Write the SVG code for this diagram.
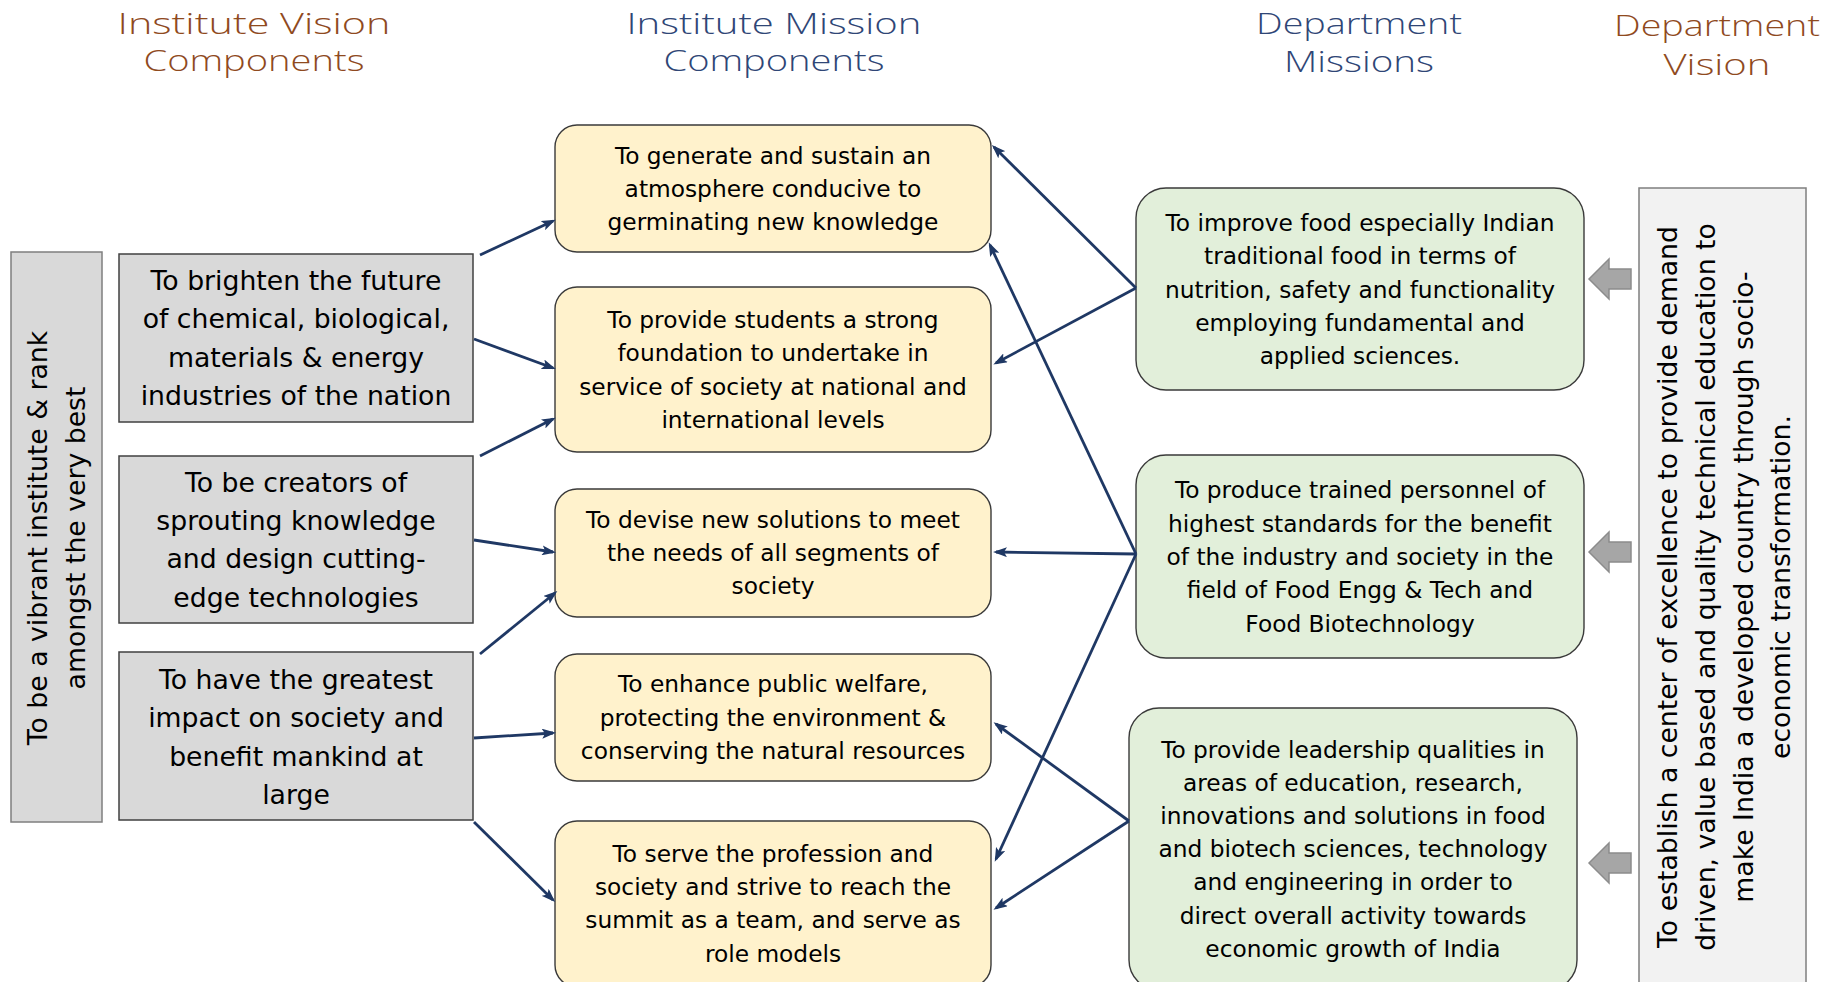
<svg xmlns="http://www.w3.org/2000/svg" width="1829" height="982" viewBox="0 0 1829 982">
<defs>
<style>
.title{font-family:"Open Sans","Liberation Sans",sans-serif;font-weight:300;font-size:30px;text-anchor:middle}
.brown{fill:#8f4a1e}
.navy{fill:#2f4676}
.big{font-family:"DejaVu Sans","Liberation Sans",sans-serif;font-size:26.7px;fill:#000;text-anchor:middle}
.med{font-family:"DejaVu Sans","Liberation Sans",sans-serif;font-size:23.3px;fill:#000;text-anchor:middle}
.gbox{fill:#d9d9d9;stroke:#404040;stroke-width:1.5}
.vbox{fill:#d9d9d9;stroke:#7f7f7f;stroke-width:1.5}
.ybox{fill:#fff2cc;stroke:#3a3a3a;stroke-width:1.4}
.grbox{fill:#e2efda;stroke:#3a3a3a;stroke-width:1.4}
.dvbox{fill:#f2f2f2;stroke:#7f7f7f;stroke-width:1.5}
.conn line{stroke:#1f3864;stroke-width:2.8;fill:none;marker-end:url(#ah)}
.garrow{fill:#a6a6a6;stroke:#8c8c8c;stroke-width:1.5}
</style>
<marker id="ah" viewBox="0 0 14 10" refX="11" refY="5" markerWidth="14" markerHeight="10" markerUnits="userSpaceOnUse" orient="auto">
<path d="M0,0 L14,5 L0,10 L3,5 z" fill="#1f3864"/>
</marker>
</defs>
<rect width="1829" height="982" fill="#ffffff"/>

<g id="titles">
<text class="title brown" x="254" y="34" textLength="273" lengthAdjust="spacingAndGlyphs">Institute Vision</text>
<text class="title brown" x="254" y="71" textLength="221" lengthAdjust="spacingAndGlyphs">Components</text>
<text class="title navy" x="774" y="34" textLength="295" lengthAdjust="spacingAndGlyphs">Institute Mission</text>
<text class="title navy" x="774" y="71" textLength="221" lengthAdjust="spacingAndGlyphs">Components</text>
<text class="title navy" x="1359" y="34" textLength="206" lengthAdjust="spacingAndGlyphs">Department</text>
<text class="title navy" x="1359" y="72" textLength="150" lengthAdjust="spacingAndGlyphs">Missions</text>
<text class="title brown" x="1717" y="36" textLength="206" lengthAdjust="spacingAndGlyphs">Department</text>
<text class="title brown" x="1717" y="75" textLength="107" lengthAdjust="spacingAndGlyphs">Vision</text>
</g>

<g id="inst-vision">
<rect class="vbox" x="11" y="252" width="91" height="570"/>
<text class="big" transform="translate(47,538) rotate(-90)">To be a vibrant institute &amp; rank</text>
<text class="big" transform="translate(85,538) rotate(-90)">amongst the very best</text>
</g>

<g id="iv1">
<rect class="gbox" x="119" y="254" width="354" height="168"/>
<text class="big" x="296" y="290">To brighten the future</text>
<text class="big" x="296" y="328.3">of chemical, biological,</text>
<text class="big" x="296" y="366.6">materials &amp; energy</text>
<text class="big" x="296" y="404.9">industries of the nation</text>
</g>
<g id="iv2">
<rect class="gbox" x="119" y="456" width="354" height="167"/>
<text class="big" x="296" y="491.8">To be creators of</text>
<text class="big" x="296" y="530.1">sprouting knowledge</text>
<text class="big" x="296" y="568.4">and design cutting-</text>
<text class="big" x="296" y="606.7">edge technologies</text>
</g>
<g id="iv3">
<rect class="gbox" x="119" y="652" width="354" height="168"/>
<text class="big" x="296" y="689">To have the greatest</text>
<text class="big" x="296" y="727.3">impact on society and</text>
<text class="big" x="296" y="765.6">benefit mankind at</text>
<text class="big" x="296" y="803.9">large</text>
</g>

<g id="im1">
<rect class="ybox" x="555" y="125" width="436" height="127" rx="22"/>
<text class="med" x="773" y="163.6">To generate and sustain an</text>
<text class="med" x="773" y="197">atmosphere conducive to</text>
<text class="med" x="773" y="230.4">germinating new knowledge</text>
</g>
<g id="im2">
<rect class="ybox" x="555" y="287" width="436" height="165" rx="22"/>
<text class="med" x="773" y="327.9">To provide students a strong</text>
<text class="med" x="773" y="361.3">foundation to undertake in</text>
<text class="med" x="773" y="394.7">service of society at national and</text>
<text class="med" x="773" y="428.1">international levels</text>
</g>
<g id="im3">
<rect class="ybox" x="555" y="489" width="436" height="128" rx="22"/>
<text class="med" x="773" y="527.5">To devise new solutions to meet</text>
<text class="med" x="773" y="560.9">the needs of all segments of</text>
<text class="med" x="773" y="594.3">society</text>
</g>
<g id="im4">
<rect class="ybox" x="555" y="654" width="436" height="127" rx="22"/>
<text class="med" x="773" y="692.2">To enhance public welfare,</text>
<text class="med" x="773" y="725.6">protecting the environment &amp;</text>
<text class="med" x="773" y="759">conserving the natural resources</text>
</g>
<g id="im5">
<rect class="ybox" x="555" y="821" width="436" height="166" rx="22"/>
<text class="med" x="773" y="861.5">To serve the profession and</text>
<text class="med" x="773" y="894.9">society and strive to reach the</text>
<text class="med" x="773" y="928.3">summit as a team, and serve as</text>
<text class="med" x="773" y="961.7">role models</text>
</g>

<g id="dm1">
<rect class="grbox" x="1136" y="188" width="448" height="202" rx="30"/>
<text class="med" x="1360" y="231">To improve food especially Indian</text>
<text class="med" x="1360" y="264.3">traditional food in terms of</text>
<text class="med" x="1360" y="297.6">nutrition, safety and functionality</text>
<text class="med" x="1360" y="330.9">employing fundamental and</text>
<text class="med" x="1360" y="364.2">applied sciences.</text>
</g>
<g id="dm2">
<rect class="grbox" x="1136" y="455" width="448" height="203" rx="30"/>
<text class="med" x="1360" y="498.4">To produce trained personnel of</text>
<text class="med" x="1360" y="531.7">highest standards for the benefit</text>
<text class="med" x="1360" y="565">of the industry and society in the</text>
<text class="med" x="1360" y="598.3">field of Food Engg &amp; Tech and</text>
<text class="med" x="1360" y="631.6">Food Biotechnology</text>
</g>
<g id="dm3">
<rect class="grbox" x="1129" y="708" width="448" height="282" rx="30"/>
<text class="med" x="1353" y="757.5">To provide leadership qualities in</text>
<text class="med" x="1353" y="790.7">areas of education, research,</text>
<text class="med" x="1353" y="823.9">innovations and solutions in food</text>
<text class="med" x="1353" y="857.1">and biotech sciences, technology</text>
<text class="med" x="1353" y="890.3">and engineering in order to</text>
<text class="med" x="1353" y="923.5">direct overall activity towards</text>
<text class="med" x="1353" y="956.7">economic growth of India</text>
</g>

<g id="dept-vision">
<rect class="dvbox" x="1639" y="188" width="167" height="802"/>
<text class="big" transform="translate(1677,587) rotate(-90)">To establish a center of excellence to provide demand</text>
<text class="big" transform="translate(1715,587) rotate(-90)">driven, value based and quality technical education to</text>
<text class="big" transform="translate(1753,587) rotate(-90)">make India a developed country through socio-</text>
<text class="big" transform="translate(1790,587) rotate(-90)">economic transformation.</text>
</g>

<g id="vision-arrows">
<polygon class="garrow" points="1589,279 1609,259 1609,269 1631,269 1631,289 1609,289 1609,299"/>
<polygon class="garrow" points="1589,552 1609,532 1609,542 1631,542 1631,562 1609,562 1609,572"/>
<polygon class="garrow" points="1589,863 1609,843 1609,853 1631,853 1631,873 1609,873 1609,883"/>
</g>

<g id="connectors" class="conn">
<line x1="480" y1="255" x2="553" y2="221"/>
<line x1="474" y1="339" x2="553" y2="368"/>
<line x1="480" y1="456" x2="553" y2="419"/>
<line x1="474" y1="540" x2="553" y2="552"/>
<line x1="480" y1="654" x2="555" y2="593"/>
<line x1="474" y1="738" x2="553" y2="733"/>
<line x1="474" y1="822" x2="553" y2="900"/>
<line x1="1136" y1="288" x2="994" y2="147"/>
<line x1="1136" y1="288" x2="996" y2="363"/>
<line x1="1136" y1="554" x2="990" y2="245"/>
<line x1="1136" y1="554" x2="996" y2="552"/>
<line x1="1136" y1="554" x2="996" y2="859"/>
<line x1="1129" y1="821" x2="996" y2="724"/>
<line x1="1129" y1="821" x2="996" y2="908"/>
</g>
</svg>
